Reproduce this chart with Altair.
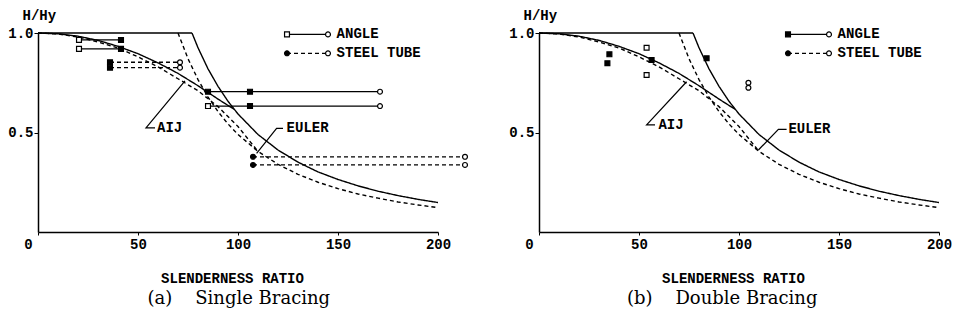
import altair as alt
import pandas as pd

FONT = "Liberation Mono"
SERIF = "DejaVu Serif"

# ---------------- values ----------------
# design curves (same in both panels)
plateau_x = [0, 77]
plateau_y = [1.0, 1.0]
euler_solid_x = [77, 80, 85, 90, 95, 100, 110, 120, 130, 140, 150, 160, 170, 180, 190, 200]
euler_solid_y = [1.0, 0.926, 0.82, 0.732, 0.657, 0.593, 0.49, 0.412, 0.351, 0.302, 0.264, 0.232, 0.205, 0.183, 0.164, 0.148]
aij_solid_x = [0, 10, 20, 30, 40, 50, 60, 70, 80, 90, 98]
aij_solid_y = [1.0, 0.996, 0.984, 0.963, 0.933, 0.896, 0.85, 0.797, 0.735, 0.668, 0.617]
euler_dashed_x = [70, 75, 80, 85, 90, 95, 100, 110, 120, 130, 140, 150, 160, 170, 180, 190, 200]
euler_dashed_y = [1.0, 0.871, 0.766, 0.678, 0.605, 0.543, 0.49, 0.405, 0.34, 0.29, 0.25, 0.218, 0.191, 0.17, 0.151, 0.136, 0.1225]
aij_dashed_x = [0, 10, 20, 30, 40, 50, 60, 70, 80, 90, 100, 110]
aij_dashed_y = [1.0, 0.995, 0.98, 0.955, 0.925, 0.88, 0.83, 0.77, 0.71, 0.63, 0.53, 0.405]

# (a) Single bracing: test results
a_angle_id = [1, 1, 2, 2, 3, 3, 3, 4, 4, 4]
a_angle_x = [20.5, 41.5, 20.5, 41.5, 85, 106, 171, 85, 106, 171]
a_angle_y = [0.965, 0.965, 0.92, 0.92, 0.705, 0.705, 0.705, 0.633, 0.633, 0.633]
a_angle_mark = ["open-square", "filled-square", "open-square", "filled-square",
                "filled-square", "filled-square", "open-circle",
                "open-square", "filled-square", "open-circle"]
a_tube_id = [5, 5, 6, 6, 7, 7, 8, 8]
a_tube_x = [36, 71, 36, 71, 107.5, 213.5, 107.5, 213.5]
a_tube_y = [0.853, 0.853, 0.826, 0.826, 0.378, 0.378, 0.337, 0.337]
a_tube_mark = ["filled-square", "open-circle", "filled-square", "open-circle",
               "filled-circle", "open-circle", "filled-circle", "open-circle"]

# (b) Double bracing: test results
b_angle_x = [35.2, 34.2, 53.8, 56.3, 53.8, 83.8]
b_angle_y = [0.893, 0.848, 0.926, 0.864, 0.789, 0.873]
b_angle_mark = ["filled-square", "filled-square", "open-square", "filled-square", "open-square", "filled-square"]
b_tube_x = [104.7, 104.7]
b_tube_y = [0.75, 0.725]
b_tube_mark = ["open-circle", "open-circle"]

legend_labels = ["ANGLE", "STEEL TUBE"]
legend_styles = ["solid", "dashed"]
a_legend_marks = [["open-square", "open-circle"], ["filled-circle", "open-circle"]]
b_legend_marks = [["filled-square", "open-circle"], ["filled-circle", "open-circle"]]

# ---------------- layout (annotation placement, in data units) ----------------
LEG_Y = [0.993, 0.898]
LEG_X0, LEG_X1, LEG_TX = 124.5, 145.0, 149.3
A_LEADERS = {
    "AIJ": [(58.5, 0.523), (54.0, 0.523), (73.5, 0.759)],
    "EULER": [(122.5, 0.521), (119.3, 0.521), (109.3, 0.395)],
}
A_LABELS = {"AIJ": (59.5, 0.523), "EULER": (124.3, 0.521)}
B_LEADERS = {
    "AIJ": [(58.0, 0.538), (53.8, 0.538), (73.8, 0.755)],
    "EULER": [(123.8, 0.516), (119.7, 0.516), (109.7, 0.412)],
}
B_LABELS = {"AIJ": (59.7, 0.538), "EULER": (124.7, 0.516)}

# ---------------- helpers ----------------
xs = alt.Scale(domain=[0, 200], nice=False, zero=False)
ys = alt.Scale(domain=[0, 1], nice=False, zero=False)
x_axis = alt.Axis(
    values=[0, 50, 100, 150, 200], format="d", grid=False,
    title="SLENDERNESS RATIO", titleFont=FONT, titleFontSize=14, titleFontWeight="bold",
    titleColor="black", titleX=194, titleY=46, titleAlign="center", titleBaseline="middle",
    labelFont=FONT, labelFontSize=14, labelFontWeight="bold", labelColor="black", labelFlush=False,
    labelPadding=2, labelOffset={"condition": {"test": "datum.value === 0", "value": -10}, "value": 0},
    tickSize=3, tickColor="black", domainColor="black", domainWidth=1.5, tickWidth=1,
)
y_axis = alt.Axis(
    values=[0.5, 1.0], format=".1f", grid=False,
    title="H/Hy", titleAngle=0, titleFont=FONT, titleFontSize=14, titleFontWeight="bold",
    titleColor="black", titleX=-16, titleY=-18, titleAlign="left", titleBaseline="middle",
    labelFont=FONT, labelFontSize=14, labelFontWeight="bold", labelColor="black",
    labelPadding=1, tickSize=4, tickColor="black", domainColor="black", domainWidth=1.5,
)


def X():
    return alt.X("x:Q", scale=xs, axis=x_axis)


def Y():
    return alt.Y("y:Q", scale=ys, axis=y_axis)


dash = alt.StrokeDash("style:N", scale=alt.Scale(domain=["solid", "dashed"], range=[[1, 0], [4, 3]]), legend=None)
shape_enc = alt.Shape("shape:N", scale=alt.Scale(domain=["square", "circle"], range=["square", "circle"]), legend=None)
fill_enc = alt.Fill("fill:N", scale=alt.Scale(domain=["filled", "open"], range=["black", "white"]), legend=None)


def curves_df():
    rows = []
    for name, style, xv, yv in [
        ("plateau", "solid", plateau_x, plateau_y),
        ("euler_s", "solid", euler_solid_x, euler_solid_y),
        ("aij_s", "solid", aij_solid_x, aij_solid_y),
        ("euler_d", "dashed", euler_dashed_x, euler_dashed_y),
        ("aij_d", "dashed", aij_dashed_x, aij_dashed_y),
    ]:
        for k, (a, b) in enumerate(zip(xv, yv)):
            rows.append({"curve": name, "style": style, "x": a, "y": b, "k": k})
    return pd.DataFrame(rows)


def marks_df(xv, yv, mv, style, ids=None):
    rows = []
    for i, (a, b, m) in enumerate(zip(xv, yv, mv)):
        f, s = m.split("-")
        rows.append({"x": a, "y": b, "fill": f, "shape": s, "style": style,
                     "g": (ids[i] if ids else i), "k": i})
    return pd.DataFrame(rows)


def panel(angle, tube, connect, legend_marks, leaders, labels, caption, cap_dx):
    layers = []
    layers.append(
        alt.Chart(curves_df()).mark_line(color="black", strokeWidth=1.4)
        .encode(x=X(), y=Y(), detail="curve:N", strokeDash=dash, order="k:Q")
    )
    adf = marks_df(angle[0], angle[1], angle[2], "solid", angle[3] if len(angle) > 3 else None)
    tdf = marks_df(tube[0], tube[1], tube[2], "dashed", tube[3] if len(tube) > 3 else None)
    pts = pd.concat([adf, tdf], ignore_index=True)
    if connect:
        layers.append(
            alt.Chart(pts).mark_line(color="black", strokeWidth=1.3)
            .encode(x=X(), y=Y(), detail="g:N", strokeDash=dash, order="k:Q")
        )
    layers.append(
        alt.Chart(pts).mark_point(size=24, stroke="black", strokeWidth=1.2, opacity=1, fillOpacity=1)
        .encode(x=X(), y=Y(), shape=shape_enc, fill=fill_enc)
    )
    # legend
    lrows, lpts, ltxt = [], [], []
    for i, (lab, st) in enumerate(zip(legend_labels, legend_styles)):
        lrows.append({"row": lab, "style": st, "x": LEG_X0, "y": LEG_Y[i], "k": 0})
        lrows.append({"row": lab, "style": st, "x": LEG_X1, "y": LEG_Y[i], "k": 1})
        for xx, m in zip([LEG_X0, LEG_X1], legend_marks[i]):
            f, s = m.split("-")
            lpts.append({"x": xx, "y": LEG_Y[i], "fill": f, "shape": s})
        ltxt.append({"x": LEG_TX, "y": LEG_Y[i], "t": lab})
    layers.append(
        alt.Chart(pd.DataFrame(lrows)).mark_line(color="black", strokeWidth=1.3)
        .encode(x=X(), y=Y(), detail="row:N", strokeDash=dash, order="k:Q")
    )
    layers.append(
        alt.Chart(pd.DataFrame(lpts)).mark_point(size=24, stroke="black", strokeWidth=1.2, opacity=1, fillOpacity=1)
        .encode(x=X(), y=Y(), shape=shape_enc, fill=fill_enc)
    )
    # leaders and annotation text
    drows = []
    for name, path in leaders.items():
        for k, (a, b) in enumerate(path):
            drows.append({"name": name, "x": a, "y": b, "k": k})
    layers.append(
        alt.Chart(pd.DataFrame(drows)).mark_line(color="black", strokeWidth=1.2)
        .encode(x=X(), y=Y(), detail="name:N", order="k:Q")
    )
    for name, (a, b) in labels.items():
        ltxt.append({"x": a, "y": b, "t": name})
    layers.append(
        alt.Chart(pd.DataFrame(ltxt)).mark_text(align="left", baseline="middle", font=FONT,
                                                fontSize=14, fontWeight="bold", color="black")
        .encode(x=X(), y=Y(), text="t:N")
    )
    return alt.layer(*layers).properties(
        width=400, height=199,
        title=alt.TitleParams(text=caption, orient="bottom", font=SERIF, fontSize=18,
                              fontWeight="normal", color="black", anchor="middle",
                              frame="bounds", offset=5, baseline="top", dx=cap_dx),
    )


left = panel((a_angle_x, a_angle_y, a_angle_mark, a_angle_id),
             (a_tube_x, a_tube_y, a_tube_mark, a_tube_id),
             True, a_legend_marks, A_LEADERS, A_LABELS,
             "(a)\u00a0\u00a0\u00a0\u00a0Single Bracing", 0)
right = panel((b_angle_x, b_angle_y, b_angle_mark),
              (b_tube_x, b_tube_y, b_tube_mark),
              False, b_legend_marks, B_LEADERS, B_LABELS,
              "(b)\u00a0\u00a0\u00a0\u00a0Double Bracing", -8)

chart = alt.hconcat(left, right, spacing=101, bounds="flush").properties(
    padding={"left": 7, "top": 8, "right": 0, "bottom": 0},
    background="white",
).configure_view(stroke=None)

chart.save("out.html", embed_options={"renderer": "svg", "actions": False})
